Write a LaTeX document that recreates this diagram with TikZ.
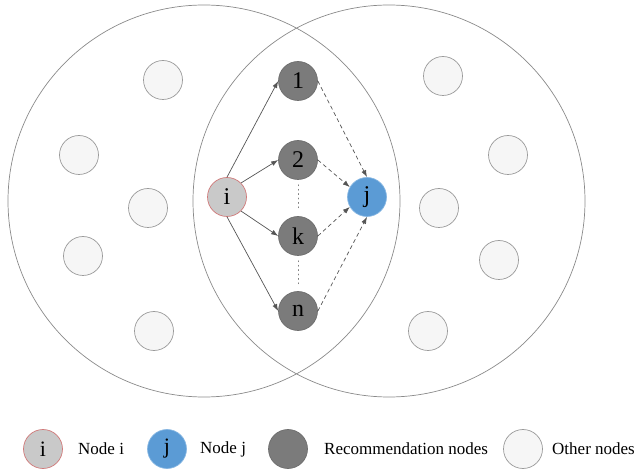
\documentclass[tikz,border=0pt]{standalone}
\usepackage{fontspec}
\setmainfont{Liberation Serif}
\usetikzlibrary{arrows.meta}
\definecolor{ifill}{HTML}{C9C9C9}
\definecolor{idraw}{HTML}{D07A7A}
\definecolor{jfill}{HTML}{5B9BD5}
\definecolor{jdraw}{HTML}{86B6E2}
\definecolor{rfill}{HTML}{7B7B7B}
\definecolor{rdraw}{HTML}{6E6E6E}
\definecolor{ofill}{HTML}{F6F6F6}
\definecolor{odraw}{HTML}{9A9A9A}
\definecolor{bigc}{HTML}{8A8A8A}
\definecolor{arr}{HTML}{555555}
\tikzset{
  base/.style={circle, inner sep=0pt, minimum size=39pt, line width=0.7pt, font=\fontsize{24}{24}\selectfont},
  nodei/.style={base, fill=ifill, draw=idraw},
  nodej/.style={base, fill=jfill, draw=jdraw},
  recnode/.style={base, fill=rfill, draw=rdraw},
  othnode/.style={base, fill=ofill, draw=odraw},
  legsize/.style={minimum size=39pt, font=\fontsize{22}{22}\selectfont},
  legtext/.style={anchor=west, inner sep=0pt, font=\fontsize{17}{17}\selectfont},
  bigcircle/.style={draw=bigc, line width=0.7pt},
  solidarr/.style={draw=arr, line width=0.7pt, -{Latex[length=7pt,width=5pt]}},
  dasharr/.style={draw=arr, line width=0.7pt, dash pattern=on 4pt off 3pt, -{Latex[length=7pt,width=5pt]}},
  dotline/.style={draw=gray, line width=0.9pt, dash pattern=on 0.9pt off 3.5pt, line cap=round}
}
\begin{document}
\begin{tikzpicture}[x=1pt, y=-1pt]
\useasboundingbox (0,0) rectangle (635,470);
% big circles
\coordinate (cl) at (204,201);
\coordinate (cr) at (389,201);
\draw[bigcircle] (cl) circle[radius=196];
\draw[bigcircle] (cr) circle[radius=196];
% other nodes left
\node[othnode] (o1) at (163,80) {};
\node[othnode] (o2) at (79,155) {};
\node[othnode] (o3) at (148,208) {};
\node[othnode] (o4) at (83,256) {};
\node[othnode] (o5) at (154,331) {};
% other nodes right
\node[othnode] (o6) at (443,76) {};
\node[othnode] (o7) at (508,155) {};
\node[othnode] (o8) at (439,208) {};
\node[othnode] (o9) at (499,260) {};
\node[othnode] (o10) at (428,331) {};
% main nodes
\node[nodei] (i) at (227,197) {i};
\node[nodej] (j) at (367,197) {j};
\node[recnode] (r1) at (298,81) {1};
\node[recnode] (r2) at (298,160) {2};
\node[recnode] (rk) at (298,236) {k};
\node[recnode] (rn) at (298,311) {n};
% solid arrows
\draw[solidarr] (i.north) -- (r1.west);
\draw[solidarr] (i.45) -- (r2.west);
\draw[solidarr] (i.-45) -- (rk.west);
\draw[solidarr] (i.south) -- (rn.west);
% dashed arrows
\draw[dasharr] (r1.east) -- (j.north);
\draw[dasharr] (r2.east) -- (j.150);
\draw[dasharr] (rk.east) -- (j.210);
\draw[dasharr] (rn.east) -- (j.south);
% dots
\draw[dotline] ([yshift=-5pt]r2.south) -- ([yshift=7pt]rk.north);
\draw[dotline] ([yshift=-5pt]rk.south) -- ([yshift=7pt]rn.north);
% legend
\node[nodei, legsize] (li) at (43,449) {i};
\node[legtext] (lit) at (78,449) {Node i};
\node[nodej, legsize] (lj) at (167,449) {j};
\node[legtext] (ljt) at (200,449) {Node j};
\node[recnode, legsize] (lr) at (288,449) {};
\node[legtext] (lrt) at (324,449) {Recommendation nodes};
\node[othnode, legsize] (lo) at (523,449) {};
\node[legtext] (lot) at (552,449) {Other nodes};
\end{tikzpicture}
\end{document}
